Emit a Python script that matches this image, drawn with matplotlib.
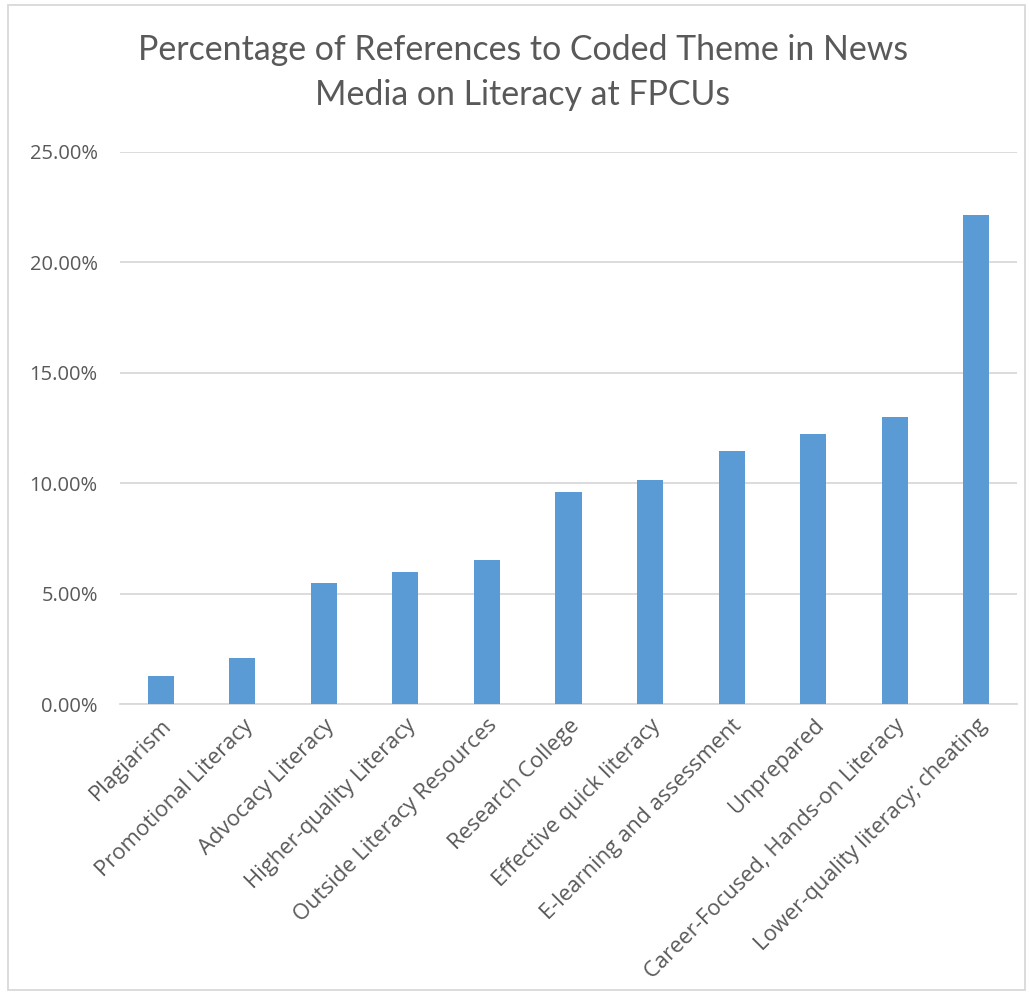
import matplotlib.pyplot as plt
from matplotlib.patches import Rectangle
from matplotlib.ticker import FuncFormatter

themes = [
    "Plagiarism",
    "Promotional Literacy",
    "Advocacy Literacy",
    "Higher-quality Literacy",
    "Outside Literacy Resources",
    "Research College",
    "Effective quick literacy",
    "E-learning and assessment",
    "Unprepared",
    "Career-Focused, Hands-on Literacy",
    "Lower-quality literacy; cheating",
]
percent_refs = [1.28, 2.08, 5.47, 5.98, 6.52, 9.62, 10.15, 11.45, 12.23, 13.01, 22.14]
y_ticks = [0, 5, 10, 15, 20, 25]

text_color = "#595959"
bar_color = "#5b9bd5"
grid_color = "#d9d9d9"

plt.rcParams["font.family"] = ["Open Sans", "DejaVu Sans"]

fig = plt.figure(figsize=(10.29, 9.93), dpi=100)
ax = fig.add_axes([0.1166, 0.291, 0.8717, 0.556])

positions = range(len(themes))
ax.bar(positions, percent_refs, width=0.32, color=bar_color, zorder=3)

ax.set_xlim(-0.5, len(themes) - 0.5)
ax.set_ylim(0, 25)
ax.set_yticks(y_ticks)
ax.yaxis.set_major_formatter(FuncFormatter(lambda v, _: f"{v:.2f}%"))
ax.grid(axis="y", color=grid_color, linewidth=1.3, zorder=0)

ax.set_xticks(list(positions))
ax.set_xticklabels(
    themes,
    rotation=45,
    ha="right",
    rotation_mode="anchor",
    fontsize=15.8,
    color=text_color,
)
ax.tick_params(axis="y", labelsize=14.5, labelcolor=text_color, length=0, pad=16)
ax.tick_params(axis="x", length=0, pad=8)

for side in ["top", "right", "left"]:
    ax.spines[side].set_visible(False)
ax.spines["bottom"].set_color(grid_color)
ax.spines["bottom"].set_linewidth(1.3)

fig.text(
    0.508,
    0.966,
    "Percentage of References to Coded Theme in News\nMedia on Literacy at FPCUs",
    ha="center",
    va="top",
    fontsize=24.4,
    color=text_color,
    family=["Lato", "DejaVu Sans"],
    linespacing=1.5,
)

fig.patches.append(
    Rectangle(
        (0.008, 0.003),
        0.988,
        0.992,
        transform=fig.transFigure,
        fill=False,
        edgecolor=grid_color,
        linewidth=1.3,
    )
)

fig.savefig("out.png", dpi=100)
plt.close(fig)
